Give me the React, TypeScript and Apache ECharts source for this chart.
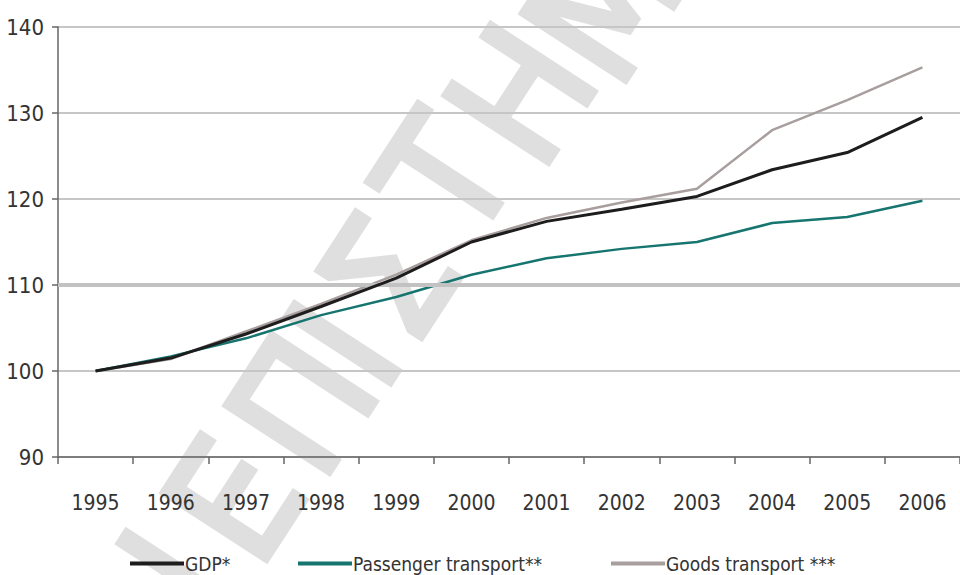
import React, { useEffect, useRef } from "react";
import * as echarts from "echarts";

// Index, 1995 = 100
const years = ["1995", "1996", "1997", "1998", "1999", "2000", "2001", "2002", "2003", "2004", "2005", "2006"];
const gdp = [100, 101.5, 104.3, 107.5, 110.8, 115.0, 117.4, 118.8, 120.3, 123.4, 125.4, 129.5];
const passenger = [100, 101.7, 103.8, 106.5, 108.6, 111.2, 113.1, 114.2, 115.0, 117.2, 117.9, 119.8];
const goods = [100, 101.4, 104.6, 107.8, 111.2, 115.2, 117.8, 119.6, 121.2, 128.0, 131.5, 135.3];
const seriesNames = ["GDP*", "Passenger transport**", "Goods transport ***"];
const highlightLevel = [110];

const FONT = "'DejaVu Sans Condensed', 'Liberation Sans Narrow', 'Roboto', sans-serif";

// watermark letters laid along a diagonal: [glyph, centre x, centre y]
const watermark: [string, number, number][] = [
  ["Ν", 158, 602],
  ["Ε", 235, 500],
  ["Π", 303, 405],
  ["Ι", 345, 345],
  ["Σ", 390, 278],
  ["Τ", 447, 178],
  ["Η", 522, 95],
  ["Μ", 604, 6],
];

export default function App() {
  const ref = useRef<HTMLDivElement>(null);

  useEffect(() => {
    if (!ref.current) return;
    const chart = echarts.init(ref.current, undefined, { renderer: "svg" });

    const legendBase = {
      top: 549,
      icon: "rect",
      itemWidth: 54,
      itemHeight: 4,
      textStyle: { fontFamily: FONT, fontSize: 19, color: "#333", padding: [0, 0, 0, -4] },
      selectedMode: false,
    };

    const rot = (57 * Math.PI) / 180;

    chart.setOption({
      animation: false,
      backgroundColor: "#fff",
      graphic: [
        {
          type: "group",
          z: 1,
          silent: true,
          children: watermark.map(([ch, x, y]) => ({
            type: "text",
            x,
            y,
            rotation: rot,
            style: {
              text: ch,
              fontFamily: "'DejaVu Sans Condensed', 'DejaVu Sans', sans-serif",
              fontSize: 170,
              fill: "#dfdfdf",
              stroke: "#dfdfdf",
              lineWidth: 6,
              align: "center",
              verticalAlign: "middle",
            },
          })),
        },
      ],
      legend: [
        { ...legendBase, left: 125, data: [seriesNames[0]] },
        { ...legendBase, left: 293, data: [seriesNames[1]] },
        { ...legendBase, left: 606, data: [seriesNames[2]] },
      ],
      grid: { left: 58, top: 27, width: 908, height: 430, containLabel: false },
      xAxis: {
        type: "category",
        data: years,
        boundaryGap: true,
        axisLine: { lineStyle: { color: "#666", width: 1.5 } },
        axisTick: { show: true, length: 7, lineStyle: { color: "#666", width: 1.5 } },
        axisLabel: { fontFamily: FONT, fontSize: 21, color: "#333", margin: 35 },
        splitLine: { show: false },
      },
      yAxis: {
        type: "value",
        min: 90,
        max: 140,
        interval: 10,
        axisLine: { show: true, lineStyle: { color: "#666", width: 1.5 } },
        axisTick: { show: true, length: 6, lineStyle: { color: "#666", width: 1.5 } },
        axisLabel: { fontFamily: FONT, fontSize: 22, color: "#333", margin: 14, padding: [6, 0, 0, 0] },
        splitLine: { lineStyle: { color: "#c6c6c6", width: 2 } },
      },
      series: [
        {
          // heavier reference line at the 110 level, under the data lines
          type: "line",
          name: "ref",
          data: [],
          z: 1,
          silent: true,
          markLine: {
            silent: true,
            symbol: "none",
            label: { show: false },
            lineStyle: { color: "#c2c2c2", width: 4, type: "solid" },
            data: highlightLevel.map((v) => ({ yAxis: v })),
          },
        },
        {
          name: seriesNames[2],
          type: "line",
          data: goods,
          symbol: "none",
          lineStyle: { color: "#a89e9e", width: 2.5 },
          itemStyle: { color: "#a89e9e" },
          z: 3,
        },
        {
          name: seriesNames[1],
          type: "line",
          data: passenger,
          symbol: "none",
          lineStyle: { color: "#17756f", width: 2.5 },
          itemStyle: { color: "#17756f" },
          z: 4,
        },
        {
          name: seriesNames[0],
          type: "line",
          data: gdp,
          symbol: "none",
          lineStyle: { color: "#1d1d1d", width: 3 },
          itemStyle: { color: "#1d1d1d" },
          z: 5,
        },
      ],
    });

    return () => chart.dispose();
  }, []);

  return <div ref={ref} style={{ width: 960, height: 575, position: "absolute", left: 0, top: 0 }} />;
}
